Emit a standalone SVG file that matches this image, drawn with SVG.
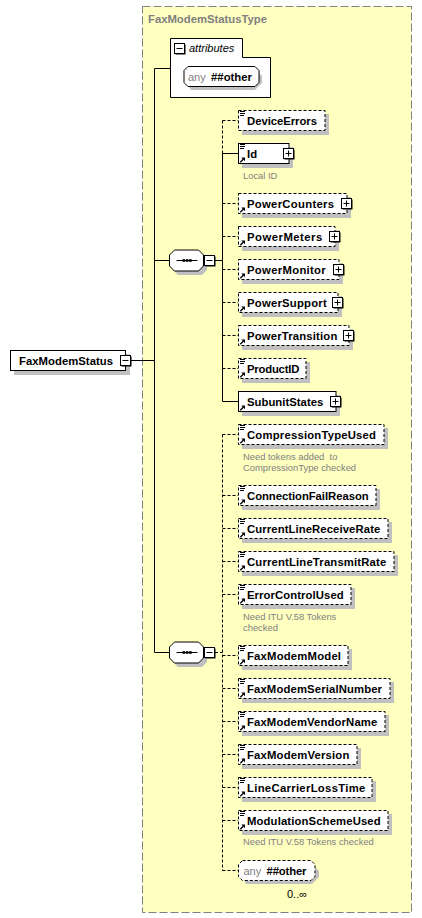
<svg xmlns="http://www.w3.org/2000/svg" xmlns:xlink="http://www.w3.org/1999/xlink" width="422" height="918" viewBox="0 0 422 918">
<style>
.bg{fill:#fff}
.type{fill:#FFFFC0;stroke:#808080;stroke-width:1;stroke-dasharray:8,3}
.box{fill:#fff;stroke:#000;stroke-width:1}
.opt{stroke-dasharray:3,2}
.sh{fill:#c0c0c0}
.lbl{font-family:"Liberation Sans",Arial,sans-serif;font-weight:bold;font-size:11.3px;fill:#000}
.ttl{font-family:"Liberation Sans",Arial,sans-serif;font-weight:bold;font-size:11.3px;fill:#808080}
.doc{font-family:"Liberation Sans",Arial,sans-serif;font-size:9.4px;fill:#808080}
.anyt{font-family:"Liberation Sans",Arial,sans-serif;font-size:11px;fill:#808080}
.norm{font-family:"Liberation Sans",Arial,sans-serif;font-size:11px;fill:#000}
.it{font-family:"Liberation Sans",Arial,sans-serif;font-style:italic;font-size:11px;fill:#000}
.c{stroke:#000;stroke-width:1;fill:none}
.d{stroke-dasharray:3,2}
</style>
<defs>
<g id="ico-lines"><path d="M0,0.5H5M0,2.5H5M0,4.5H4" stroke="#000" stroke-width="1"/></g>
<g id="ico-ref"><path d="M0.8,5.2L4,2" stroke="#000" stroke-width="1.3"/><path d="M1.8,0.5H5.5V4.2Z" fill="#000"/></g>
<g id="plus"><rect x="1.5" y="1.5" width="10" height="10" fill="#000"/><rect x="0.5" y="0.5" width="10" height="10" fill="#fff" stroke="#000"/><path d="M2.5,5.5H8.5M5.5,2.5V8.5" stroke="#000"/></g>
<g id="minus"><rect x="1.5" y="1.5" width="10" height="10" fill="#000"/><rect x="0.5" y="0.5" width="10" height="10" fill="#fff" stroke="#000"/><path d="M2.5,5.5H8.5" stroke="#000"/></g>
<polygon id="seqshape" points="5,0 29,0 34,5 34,16 29,21 5,21 0,16 0,5"/>
<g id="seqicon"><path d="M7,10.5H28" stroke="#000"/><rect x="13" y="9.2" width="2.6" height="2.6" fill="#000"/><rect x="16.3" y="9.2" width="2.6" height="2.6" fill="#000"/><rect x="19.6" y="9.2" width="2.6" height="2.6" fill="#000"/></g>
</defs>
<rect class="bg" x="0" y="0" width="422" height="918"/>

<g id="FaxModemStatusType">
<rect class="type" x="142.5" y="6.5" width="269" height="906"/>
<text class="ttl" x="148" y="23" textLength="119">FaxModemStatusType</text>
</g>

<g id="connectors">
<path class="c" d="M131,360.5H154.5M154.5,68.5V652.5M154.5,68.5H170M154.5,260.5H169M154.5,652.5H169"/>
<path class="c" d="M215,260.5H222.5"/>
<path class="c d" d="M222.5,120.5V153.5"/>
<path class="c" d="M222.5,153.5V401.5"/>
<path class="c d" d="M222.5,120.5H238M222.5,203.5H238M222.5,236.5H238M222.5,269.5H238M222.5,302.5H238M222.5,335.5H238M222.5,368.5H238"/>
<path class="c" d="M222.5,153.5H238M222.5,401.5H238"/>
<path class="c d" d="M215,652.5H222.5M222.5,434.5V870.5"/>
<path class="c d" d="M222.5,434.5H238M222.5,495.5H238M222.5,528.5H238M222.5,561.5H238M222.5,594.5H238M222.5,655.5H238M222.5,688.5H238M222.5,721.5H238M222.5,754.5H238M222.5,787.5H238M222.5,820.5H238M222.5,870.5H238"/>
</g>

<g id="FaxModemStatus">
<rect class="sh" x="14" y="354" width="116" height="21"/>
<rect class="box" x="10.5" y="350.5" width="115" height="20"/>
<text class="lbl" x="19" y="364.5" textLength="94">FaxModemStatus</text>
<use xlink:href="#minus" x="120" y="355"/>
</g>

<g id="attributes">
<path class="box" d="M170.5,97.5V38.5H242.5V57.5H270.5V97.5Z"/>
<use xlink:href="#minus" x="174" y="43"/>
<text class="it" x="189" y="52">attributes</text>
<polygon class="sh" points="191,69 255,69 262,76 262,83 255,90 191,90 187,83 187,76"/>
<polygon class="box" points="188,66.5 255,66.5 259,70.5 259,82.5 255,86.5 188,86.5 184,82.5 184,70.5"/>
<text class="anyt" x="188" y="80.5">any</text>
<text class="lbl" x="211" y="80.5" textLength="41">##other</text>
</g>

<g id="sequence1">
<use xlink:href="#seqshape" class="sh" x="173" y="254"/>
<use xlink:href="#seqshape" class="box" x="169.5" y="250"/>
<use xlink:href="#seqicon" x="169.5" y="250"/>
<use xlink:href="#minus" x="204" y="255"/>
</g>

<g id="sequence2">
<use xlink:href="#seqshape" class="sh" x="173" y="646"/>
<use xlink:href="#seqshape" class="box" x="169.5" y="642"/>
<use xlink:href="#seqicon" x="169.5" y="642"/>
<use xlink:href="#minus" x="204" y="647"/>
</g>

<g id="DeviceErrors">
<rect class="sh" x="242" y="114" width="87" height="21"/>
<rect class="box opt" x="238.5" y="110.5" width="86.5" height="20"/>
<use xlink:href="#ico-lines" x="240" y="111"/>
<text class="lbl" x="247" y="124.5" textLength="70">DeviceErrors</text>
</g>

<g id="Id">
<rect class="sh" x="242" y="147" width="51" height="21"/>
<rect class="box" x="238.5" y="143.5" width="50.5" height="20"/>
<use xlink:href="#ico-lines" x="240" y="144"/>
<use xlink:href="#ico-ref" x="239.5" y="157"/>
<text class="lbl" x="247" y="157.5">Id</text>
<use xlink:href="#plus" x="283" y="148"/>
<text class="doc" x="243" y="178.5">Local ID</text>
</g>

<g id="PowerCounters">
<rect class="sh" x="242" y="197" width="109" height="21"/>
<rect class="box opt" x="238.5" y="193.5" width="108.5" height="20"/>
<use xlink:href="#ico-ref" x="239.5" y="207"/>
<text class="lbl" x="247" y="207.5" textLength="87">PowerCounters</text>
<use xlink:href="#plus" x="341" y="198"/>
</g>

<g id="PowerMeters">
<rect class="sh" x="242" y="230" width="97" height="21"/>
<rect class="box opt" x="238.5" y="226.5" width="96.5" height="20"/>
<use xlink:href="#ico-ref" x="239.5" y="240"/>
<text class="lbl" x="247" y="240.5" textLength="75.3">PowerMeters</text>
<use xlink:href="#plus" x="329" y="231"/>
</g>

<g id="PowerMonitor">
<rect class="sh" x="242" y="263" width="101" height="21"/>
<rect class="box opt" x="238.5" y="259.5" width="100.5" height="20"/>
<use xlink:href="#ico-ref" x="239.5" y="273"/>
<text class="lbl" x="247" y="273.5" textLength="78.7">PowerMonitor</text>
<use xlink:href="#plus" x="333" y="264"/>
</g>

<g id="PowerSupport">
<rect class="sh" x="242" y="296" width="100" height="21"/>
<rect class="box opt" x="238.5" y="292.5" width="99.5" height="20"/>
<use xlink:href="#ico-ref" x="239.5" y="306"/>
<text class="lbl" x="247" y="306.5" textLength="79.7">PowerSupport</text>
<use xlink:href="#plus" x="332" y="297"/>
</g>

<g id="PowerTransition">
<rect class="sh" x="242" y="329" width="111" height="21"/>
<rect class="box opt" x="238.5" y="325.5" width="110.5" height="20"/>
<use xlink:href="#ico-ref" x="239.5" y="339"/>
<text class="lbl" x="247" y="339.5" textLength="90.3">PowerTransition</text>
<use xlink:href="#plus" x="343" y="330"/>
</g>

<g id="ProductID">
<rect class="sh" x="242" y="362" width="68" height="21"/>
<rect class="box opt" x="238.5" y="358.5" width="67.5" height="20"/>
<use xlink:href="#ico-lines" x="240" y="359"/>
<use xlink:href="#ico-ref" x="239.5" y="372"/>
<text class="lbl" x="247" y="372.5" textLength="52.3">ProductID</text>
</g>

<g id="SubunitStates">
<rect class="sh" x="242" y="395" width="98" height="21"/>
<rect class="box" x="238.5" y="391.5" width="97.5" height="20"/>
<use xlink:href="#ico-ref" x="239.5" y="405"/>
<text class="lbl" x="247" y="405.5" textLength="76.3">SubunitStates</text>
<use xlink:href="#plus" x="330" y="396"/>
</g>

<g id="CompressionTypeUsed">
<rect class="sh" x="242" y="428" width="146" height="21"/>
<rect class="box opt" x="238.5" y="424.5" width="145.5" height="20"/>
<use xlink:href="#ico-lines" x="240" y="425"/>
<use xlink:href="#ico-ref" x="239.5" y="438"/>
<text class="lbl" x="247" y="438.5" textLength="129">CompressionTypeUsed</text>
<text class="doc" x="243" y="460" xml:space="preserve">Need tokens added  to</text>
<text class="doc" x="243" y="470.7">CompressionType checked</text>
</g>

<g id="ConnectionFailReason">
<rect class="sh" x="242" y="489" width="138" height="21"/>
<rect class="box opt" x="238.5" y="485.5" width="137.5" height="20"/>
<use xlink:href="#ico-lines" x="240" y="486"/>
<use xlink:href="#ico-ref" x="239.5" y="499"/>
<text class="lbl" x="247" y="499.5" textLength="121.7">ConnectionFailReason</text>
</g>

<g id="CurrentLineReceiveRate">
<rect class="sh" x="242" y="522" width="150" height="21"/>
<rect class="box opt" x="238.5" y="518.5" width="149.5" height="20"/>
<use xlink:href="#ico-lines" x="240" y="519"/>
<use xlink:href="#ico-ref" x="239.5" y="532"/>
<text class="lbl" x="247" y="532.5" textLength="133.3">CurrentLineReceiveRate</text>
</g>

<g id="CurrentLineTransmitRate">
<rect class="sh" x="242" y="555" width="156" height="21"/>
<rect class="box opt" x="238.5" y="551.5" width="155.5" height="20"/>
<use xlink:href="#ico-lines" x="240" y="552"/>
<use xlink:href="#ico-ref" x="239.5" y="565"/>
<text class="lbl" x="247" y="565.5" textLength="139.3">CurrentLineTransmitRate</text>
</g>

<g id="ErrorControlUsed">
<rect class="sh" x="242" y="588" width="113" height="21"/>
<rect class="box opt" x="238.5" y="584.5" width="112.5" height="20"/>
<use xlink:href="#ico-lines" x="240" y="585"/>
<use xlink:href="#ico-ref" x="239.5" y="598"/>
<text class="lbl" x="247" y="598.5" textLength="96.7">ErrorControlUsed</text>
<text class="doc" x="243" y="620">Need ITU V.58 Tokens</text>
<text class="doc" x="243" y="630.7">checked</text>
</g>

<g id="FaxModemModel">
<rect class="sh" x="242" y="649" width="110" height="21"/>
<rect class="box opt" x="238.5" y="645.5" width="109.5" height="20"/>
<use xlink:href="#ico-lines" x="240" y="646"/>
<use xlink:href="#ico-ref" x="239.5" y="659"/>
<text class="lbl" x="247" y="659.5" textLength="94">FaxModemModel</text>
</g>

<g id="FaxModemSerialNumber">
<rect class="sh" x="242" y="682" width="152" height="21"/>
<rect class="box opt" x="238.5" y="678.5" width="151.5" height="20"/>
<use xlink:href="#ico-lines" x="240" y="679"/>
<use xlink:href="#ico-ref" x="239.5" y="692"/>
<text class="lbl" x="247" y="692.5" textLength="135">FaxModemSerialNumber</text>
</g>

<g id="FaxModemVendorName">
<rect class="sh" x="242" y="715" width="147" height="21"/>
<rect class="box opt" x="238.5" y="711.5" width="146.5" height="20"/>
<use xlink:href="#ico-lines" x="240" y="712"/>
<use xlink:href="#ico-ref" x="239.5" y="725"/>
<text class="lbl" x="247" y="725.5" textLength="130.3">FaxModemVendorName</text>
</g>

<g id="FaxModemVersion">
<rect class="sh" x="242" y="748" width="119" height="21"/>
<rect class="box opt" x="238.5" y="744.5" width="118.5" height="20"/>
<use xlink:href="#ico-lines" x="240" y="745"/>
<use xlink:href="#ico-ref" x="239.5" y="758"/>
<text class="lbl" x="247" y="758.5" textLength="102.3">FaxModemVersion</text>
</g>

<g id="LineCarrierLossTime">
<rect class="sh" x="242" y="781" width="134" height="21"/>
<rect class="box opt" x="238.5" y="777.5" width="133.5" height="20"/>
<use xlink:href="#ico-lines" x="240" y="778"/>
<use xlink:href="#ico-ref" x="239.5" y="791"/>
<text class="lbl" x="247" y="791.5" textLength="118.3">LineCarrierLossTime</text>
</g>

<g id="ModulationSchemeUsed">
<rect class="sh" x="242" y="814" width="150" height="21"/>
<rect class="box opt" x="238.5" y="810.5" width="149.5" height="20"/>
<use xlink:href="#ico-lines" x="240" y="811"/>
<use xlink:href="#ico-ref" x="239.5" y="824"/>
<text class="lbl" x="247" y="824.5" textLength="133.7">ModulationSchemeUsed</text>
<text class="doc" x="243" y="845">Need ITU V.58 Tokens checked</text>
</g>

<g id="anyOther">
<polygon class="sh" points="246,864 312,864 319,871 319,877 312,884 246,884 242,877 242,871"/>
<polygon class="box opt" points="242.5,860.5 311,860.5 315,864.5 315,876.5 311,880.5 242.5,880.5 238.5,876.5 238.5,864.5"/>
<text class="anyt" x="243.5" y="874.5">any</text>
<text class="lbl" x="266.5" y="874.5" textLength="40">##other</text>
<text class="norm" x="287" y="898">0..∞</text>
</g>
</svg>
